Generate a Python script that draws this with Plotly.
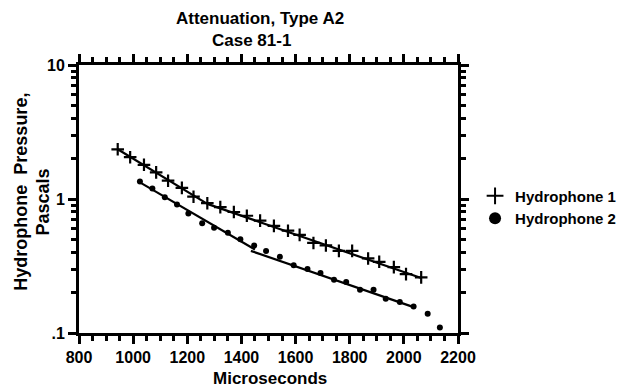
import plotly.graph_objects as go

# Hydrophone 1 data (microseconds, pascals)
h1_x = [943, 989, 1040, 1085, 1129, 1180, 1223, 1274, 1322, 1372, 1420, 1469, 1520, 1572,
        1615, 1666, 1712, 1760, 1809, 1868, 1909, 1963, 2008, 2064]
h1_y = [2.35, 2.05, 1.80, 1.58, 1.37, 1.21, 1.04, 0.93, 0.87, 0.80, 0.75, 0.69, 0.63, 0.58,
        0.54, 0.47, 0.45, 0.41, 0.41, 0.36, 0.34, 0.31, 0.275, 0.26]

# Hydrophone 2 data
h2_x = [1025, 1071, 1117, 1162, 1204, 1255, 1299, 1350, 1396, 1447, 1491, 1542, 1593, 1644,
        1692, 1742, 1787, 1838, 1888, 1933, 1985, 2036, 2088, 2133]
h2_y = [1.35, 1.20, 1.03, 0.91, 0.78, 0.66, 0.61, 0.56, 0.50, 0.45, 0.41, 0.37, 0.32, 0.30,
        0.28, 0.25, 0.24, 0.21, 0.21, 0.18, 0.17, 0.158, 0.139, 0.110]

# Fitted line segments
fit1a_x = [943, 1274]
fit1a_y = [2.35, 0.92]
fit1b_x = [1274, 2064]
fit1b_y = [0.92, 0.257]
fit2a_x = [1025, 1450]
fit2a_y = [1.33, 0.42]
fit2b_x = [1435, 2036]
fit2b_y = [0.41, 0.156]

x_ticks = [800, 1000, 1200, 1400, 1600, 1800, 2000, 2200]
y_ticks = [0.1, 1, 10]
y_tick_text = [".1", "1", "10"]

FONT = "Liberation Sans"

fig = go.Figure()
for fx, fy in [(fit1a_x, fit1a_y), (fit1b_x, fit1b_y), (fit2a_x, fit2a_y), (fit2b_x, fit2b_y)]:
    fig.add_trace(go.Scatter(x=fx, y=fy, mode="lines", line=dict(color="black", width=2.2),
                             showlegend=False, hoverinfo="skip"))

fig.add_trace(go.Scatter(x=h1_x, y=h1_y, mode="markers", name="Hydrophone 1",
                         marker=dict(symbol="cross-thin", size=9, color="black",
                                     line=dict(color="black", width=2.2))))
fig.add_trace(go.Scatter(x=h2_x, y=h2_y, mode="markers", name="Hydrophone 2",
                         marker=dict(symbol="circle", size=6, color="black")))

bold = dict(family=FONT, color="black", weight="bold")
annotations = [
    dict(text="Attenuation, Type A2", x=0.477, y=1.175, xref="paper", yref="paper",
         xanchor="center", yanchor="middle", showarrow=False, font=dict(bold, size=17)),
    dict(text="Case 81-1", x=0.454, y=1.093, xref="paper", yref="paper",
         xanchor="center", yanchor="middle", showarrow=False, font=dict(bold, size=17)),
    dict(text="Hydrophone  Pressure,", x=-0.154, y=0.526, xref="paper", yref="paper",
         xanchor="center", yanchor="middle", showarrow=False, textangle=-90,
         font=dict(bold, size=18)),
    dict(text="Pascals", x=-0.096, y=0.489, xref="paper", yref="paper",
         xanchor="center", yanchor="middle", showarrow=False, textangle=-90,
         font=dict(bold, size=18)),
    dict(text="Microseconds", x=0.503, y=-0.168, xref="paper", yref="paper",
         xanchor="center", yanchor="middle", showarrow=False, font=dict(bold, size=17)),
]

fig.update_layout(
    width=633, height=389,
    margin=dict(l=79, r=170, t=65, b=56),
    paper_bgcolor="white", plot_bgcolor="white",
    font=dict(family=FONT, size=15, color="black", weight="bold"),
    legend=dict(x=1.045, y=0.47, xanchor="left", yanchor="middle",
                font=dict(size=15, weight="bold"), tracegroupgap=0, itemsizing="constant"),
    showlegend=True,
    annotations=annotations,
)

fig.update_xaxes(
    range=[800, 2200], tickvals=x_ticks,
    ticks="outside", ticklen=8, tickwidth=2.5, tickcolor="black",
    minor=dict(dtick=50, ticks="outside", ticklen=5, tickwidth=2.5, tickcolor="black"),
    showline=True, linecolor="black", linewidth=3, mirror="allticks",
    showgrid=False, zeroline=False,
    tickfont=dict(size=16, weight="bold"),
)
fig.update_yaxes(
    type="log", range=[-1, 1], tickvals=y_ticks, ticktext=y_tick_text,
    ticks="outside", ticklen=8, tickwidth=2.5, tickcolor="black",
    minor=dict(tickvals=[0.2, 0.3, 0.4, 0.5, 0.6, 0.7, 0.8, 0.9, 2, 3, 4, 5, 6, 7, 8, 9],
               ticks="outside", ticklen=5, tickwidth=2.5, tickcolor="black"),
    showline=True, linecolor="black", linewidth=3, mirror="allticks",
    showgrid=False, zeroline=False,
    tickfont=dict(size=16, weight="bold"),
)

fig.write_html("out.html")
